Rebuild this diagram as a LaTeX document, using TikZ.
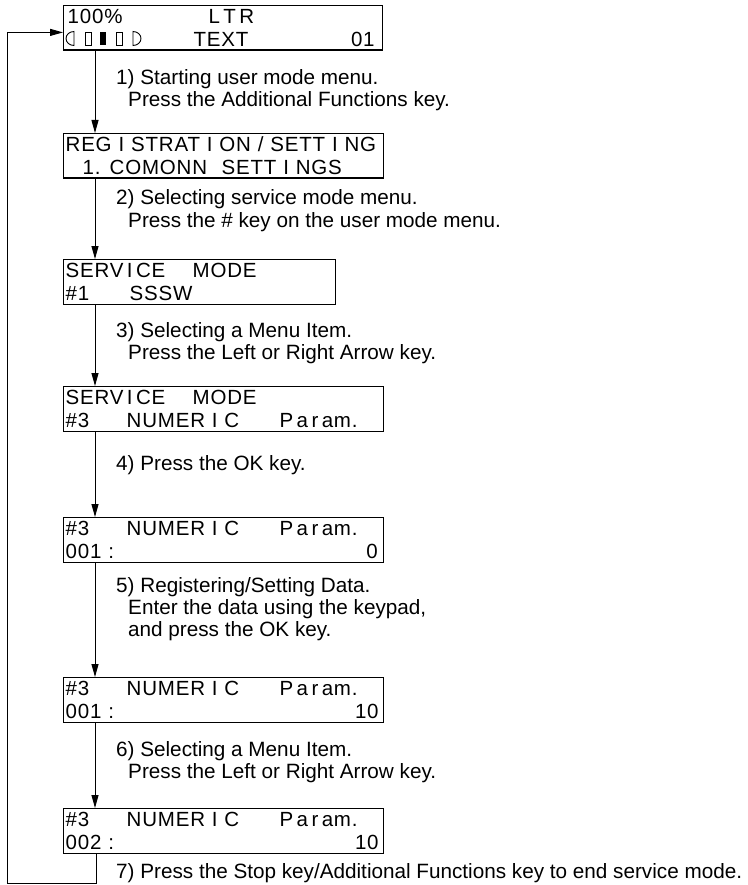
\documentclass[tikz,border=0pt]{standalone}
\usepackage{fontspec}
\setmainfont{Liberation Sans}
\newfontfamily\lcdfont[LetterSpace=4]{Liberation Sans}
\usetikzlibrary{arrows.meta,positioning}
\newcommand{\putat}[2]{\leavevmode\rlap{\hspace*{#1pt}#2}}

\begin{document}
\begin{tikzpicture}[x=1pt, y=-1pt,
    screen/.style={rectangle, draw, line width=1.3pt, inner sep=0pt, anchor=north west, text width=320pt, text height=18pt, text depth=26.5pt, align=left, font=\lcdfont\fontsize{20.5}{22.5}\selectfont},
    note/.style={anchor=base west, align=left, inner sep=0pt, font=\fontsize{20.7}{22}\selectfont},
    arrow/.style={-{Stealth[length=13pt,width=7pt,inset=0pt]}, line width=1pt}
]
\useasboundingbox (0,0) rectangle (747,885);

% Display screens
\node[screen, text width=319pt] (s1) at (63,5) {\putat{4}{100\%}\putat{145}{L\,T\,R}\\\putat{130}{TEXT}\hfill 01\kern8pt};
\node[screen] (s2) at (63,133) {\putat{2}{REG I STRAT I ON / SETT I NG}\\\putat{19}{1.}\putat{46}{COMONN}\putat{158}{SETT I NGS}};
\node[screen, text width=272pt] (s3) at (63,259) {\putat{2}{SERV\,I\,CE}\putat{129}{MODE}\\\putat{2}{\#1}\putat{66}{SSSW}};
\node[screen] (s4) at (63,386) {\putat{2}{SERV\,I\,CE}\putat{129}{MODE}\\\putat{2}{\#3}\putat{63}{NUMER I C}\putat{216}{P\,a\,r\,am.}};
\node[screen] (s5) at (63,517) {\putat{2}{\#3}\putat{63}{NUMER I C}\putat{216}{P\,a\,r\,am.}\\\putat{2}{001 :}\hfill 0\kern6pt};
\node[screen] (s6) at (63,677) {\putat{2}{\#3}\putat{63}{NUMER I C}\putat{216}{P\,a\,r\,am.}\\\putat{2}{001 :}\hfill 10\kern5pt};
\node[screen] (s7) at (63,808) {\putat{2}{\#3}\putat{63}{NUMER I C}\putat{216}{P\,a\,r\,am.}\\\putat{2}{002 :}\hfill 10\kern5pt};

% Mode icons on the first screen
\draw[line width=0.9pt] (74,31.5) arc[start angle=270, end angle=90, x radius=8, y radius=7] -- cycle;
\draw[line width=0.9pt] (85,32) rectangle (91,45.5);
\fill (100,32) rectangle (106,45.5);
\draw[line width=0.9pt] (116,32) rectangle (122,45.5);
\draw[line width=0.9pt] (133,31.5) arc[start angle=-90, end angle=90, x radius=8, y radius=7] -- cycle;

% Steps (anchored on the last line)
\node[note] (t1) at (116,107) {1) Starting user mode menu.\\\hspace*{12pt}Press the Additional Functions key.};
\node[note] (t2) at (116,227) {2) Selecting service mode menu.\\\hspace*{12pt}Press the \# key on the user mode menu.};
\node[note] (t3) at (116,359) {3) Selecting a Menu Item.\\\hspace*{12pt}Press the Left or Right Arrow key.};
\node[note] (t4) at (116,470) {4) Press the OK key.};
\node[note] (t5) at (116,636) {5) Registering/Setting Data.\\\hspace*{12pt}Enter the data using the keypad,\\\hspace*{12pt}and press the OK key.};
\node[note] (t6) at (116,778) {6) Selecting a Menu Item.\\\hspace*{12pt}Press the Left or Right Arrow key.};
\node[note] (t7) at (116,878) {7) Press the Stop key/Additional Functions key to end service mode.};

% Flow
\draw[arrow] ([xshift=32pt]s1.south west) -- ([xshift=32pt]s2.north west);
\draw[arrow] ([xshift=32pt]s2.south west) -- ([xshift=32pt]s3.north west);
\draw[arrow] ([xshift=32pt]s3.south west) -- ([xshift=32pt]s4.north west);
\draw[arrow] ([xshift=32pt]s4.south west) -- ([xshift=32pt]s5.north west);
\draw[arrow] ([xshift=32pt]s5.south west) -- ([xshift=32pt]s6.north west);
\draw[arrow] ([xshift=32pt]s6.south west) -- ([xshift=32pt]s7.north west);
\coordinate (back) at (7,883);
\draw[arrow] ([xshift=33pt]s7.south west) |- (back) |- ([yshift=-4.5pt]s1.west);
\end{tikzpicture}
\end{document}
